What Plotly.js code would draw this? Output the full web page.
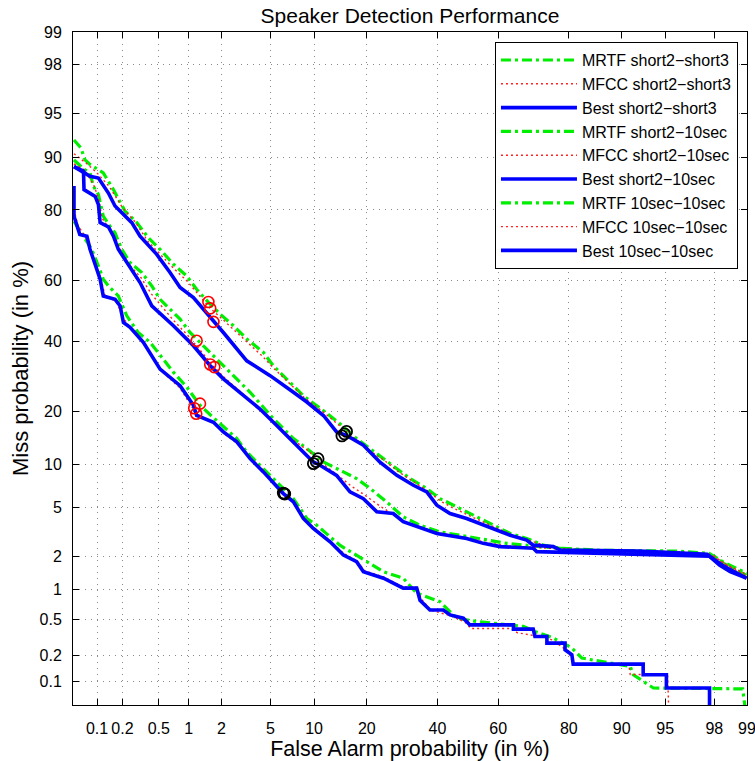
<!DOCTYPE html>
<html>
<head>
<meta charset="utf-8">
<script src="https://cdn.plot.ly/plotly-3.0.1.min.js"></script>
<style>html,body{margin:0;padding:0;background:#fff;}#chart{width:755px;height:761px;}</style>
</head>
<body>
<div id="chart"></div>
<script>
// ---- tick values (percent) ----
var tickPct = [0.1,0.2,0.5,1,2,5,10,20,40,60,80,90,95,98,99];
var tickText = ["0.1","0.2","0.5","1","2","5","10","20","40","60","80","90","95","98","99"];
var rangePct = [0.05, 99];

// ---- short2-short3 ----
var fa_mrtf_s2s3 = [0.0515,0.063,0.071,0.082,0.119,0.157,0.214,0.29,0.387,0.516,0.707,0.957,1.19,1.53,1.95,2.54,3.27,4.42,5.25,6.92,8.52,11.44,14.3,17.7,20.8,24.1,27.7,31.5,36.6,40.8,44.1,51.8,57.3,63.8,68.8,73.5,77.9,86.4,96.1,97.8,98.3,98.7,98.99];
var miss_mrtf_s2s3 = [92.3,91.3,89.6,88.9,87.5,84.4,79.7,76.9,72.9,69.6,65.1,61.4,57.1,52.8,48.9,45.0,40.7,36.4,32.3,27.5,23.9,20.2,17.3,14.3,12.5,10.85,9.37,8.06,6.89,5.84,5.38,4.40,3.79,3.15,2.87,2.52,2.37,2.28,2.24,2.14,1.82,1.61,1.42];
var fa_mfcc_s2s3 = [0.0515,0.075,0.1,0.14,0.2,0.28,0.38,0.5,0.7,0.95,1.2,1.59,2.0,2.6,3.3,4.4,5.3,7.0,8.6,11.5,14.5,17.7,21,24.5,28,32,37,41,45,52,58,64,69,74,78,87,96,97.8,98.3,98.7,99];
var miss_mfcc_s2s3 = [90.5,89.0,87.5,85.0,80.5,77.0,72.0,68.5,64.0,60.0,56.0,50.8,47.5,43.5,39.5,35.0,31.5,27.0,23.5,19.8,16.6,14.0,12.0,10.5,9.0,7.8,6.6,5.6,5.0,4.2,3.6,3.1,2.8,2.5,2.35,2.26,2.22,2.12,1.78,1.55,1.38];
var fa_best_s2s3 = [0.0515,0.082,0.104,0.137,0.164,0.255,0.315,0.476,0.653,0.824,1.11,1.48,2.08,3.27,4.97,7.30,8.98,11.44,13.7,15.6,19.2,23.2,27.7,32.5,36.6,39.8,44.1,49.6,54.1,58.4,63.8,68.8,70.7,76.2,77.9,92.4,97.7,98.2,98.56,98.99];
var miss_best_s2s3 = [88.55,86.9,86.6,83.7,80.9,76.9,73.3,68.1,62.5,57.7,54.4,49.4,42.8,33.8,29.4,24.8,22.3,19.1,15.6,14.9,13.1,10.3,8.47,7.26,6.53,5.23,4.53,4.15,3.79,3.46,3.05,2.78,2.52,2.45,2.29,2.24,2.10,1.69,1.47,1.28];

// ---- short2-10sec ----
var fa_mrtf_s210 = [0.0515,0.069,0.082,0.090,0.104,0.119,0.143,0.164,0.196,0.244,0.329,0.422,0.516,0.653,0.824,1.03,1.38,1.82,2.54,3.48,5.25,7.30,8.98,11.44,14.99,17.7,20.8,24.9,29.5,34.5,40.8,49.6,62.7,72.6,86.4,97.3,98.0,98.4,98.99];
var miss_mrtf_s210 = [89.6,88.1,87.5,85.1,83.4,78.5,76.0,74.2,69.6,65.6,62.5,58.2,53.8,50.5,47.2,42.8,38.5,34.3,29.4,24.8,18.4,14.3,12.5,10.35,8.93,8.06,6.89,5.54,4.27,3.67,3.25,2.97,2.61,2.45,2.22,2.10,2.02,1.71,1.36];
var fa_mfcc_s210 = [0.0515,0.07,0.09,0.105,0.115,0.14,0.16,0.19,0.23,0.32,0.42,0.52,0.7,1.0,1.3,1.73,2.1,2.9,4.2,5.5,7.3,9.0,11.0,13.7,16.5,19.5,23,27,30,35.5,40,50,56,62,72,86,97,98,98.4,99];
var miss_mfcc_s210 = [89.0,88.0,85.5,82.5,78.0,75.5,73.5,69.5,65.5,61.0,55.5,52.0,47.0,41.5,37.0,31.9,29.0,25.0,20.5,17.0,14.0,12.3,10.3,8.6,7.2,6.2,5.2,4.4,3.9,3.5,3.2,2.9,2.65,2.5,2.4,2.24,2.12,2.02,1.72,1.33];
var fa_best_s210 = [0.0515,0.068,0.069,0.095,0.104,0.109,0.137,0.157,0.179,0.224,0.315,0.422,0.707,1.11,1.59,2.08,2.89,4.16,5.56,7.30,9.89,10.9,13.7,16.3,19.2,22.4,26.7,29.5,35.5,39.8,49.6,55.1,60.6,70.7,71.7,90.2,97.8,98.3,98.99];
var miss_best_s210 = [88.55,87.8,84.4,83.0,81.2,76.9,75.8,73.3,69.6,65.6,59.3,51.6,45.0,38.5,32.3,28.5,24.8,20.6,16.9,13.7,10.35,9.86,8.47,6.53,5.84,4.67,4.53,3.91,3.46,3.15,2.87,2.61,2.45,2.37,2.22,2.10,2.02,1.68,1.28];

// ---- 10sec-10sec ----
var fa_mrtf_1010 = [0.0515,0.068,0.086,0.104,0.119,0.137,0.179,0.224,0.30,0.405,0.516,0.707,0.957,1.28,1.70,2.71,3.27,4.42,5.56,7.30,8.98,10.4,14.3,17.7,24.1,29.5,33.5,40.8,46.3,52.9,67.8,71.2,76.2,80.7,82.9,91.2,91.6,93.9,98.9,99.0];
var miss_mrtf_1010 = [77.2,73.3,69.6,64.5,60.4,58.2,54.9,48.3,42.8,39.6,35.4,30.4,26.2,21.5,18.6,14.3,11.9,9.37,7.65,5.84,4.15,3.67,2.52,2.07,1.47,1.28,0.92,0.76,0.514,0.476,0.421,0.372,0.315,0.244,0.187,0.150,0.119,0.082,0.080,0.03];
var fa_mfcc_1010 = [0.0515,0.058,0.068,0.08,0.095,0.11,0.125,0.17,0.2,0.25,0.34,0.52,0.82,1.0,1.18,1.7,2.1,2.7,3.5,4.4,6.2,7.3,8.6,10,12.5,15,17.7,19.5,24,29.5,33.5,35,38,44,49,51,64,66,72,76,80,81,91,91.2,95.2,95.3];
var miss_mfcc_1010 = [80.0,76.0,74.0,71.0,65.5,61.0,55.0,53.0,48.0,44.0,39.5,31.0,26.0,22.5,19.5,17.5,15.3,13.5,11.0,9.2,6.4,5.6,4.2,3.5,2.75,2.15,1.85,1.5,1.32,1.06,1.05,0.80,0.62,0.55,0.47,0.40,0.40,0.36,0.33,0.30,0.22,0.16,0.16,0.12,0.12,0.04];
var fa_best_1010 = [0.0515,0.0515,0.061,0.075,0.082,0.095,0.109,0.119,0.164,0.188,0.205,0.244,0.342,0.516,0.824,1.11,1.19,1.70,2.08,2.71,3.48,4.42,6.21,7.30,8.52,9.89,12.55,14.99,17.7,19.2,24.1,29.5,33.5,34.5,37.6,41.9,44.1,48.5,50.7,64.8,64.8,70.7,71.2,74.5,74.5,79.1,79.1,80.7,81.0,92.8,92.8,95.1,95.1,97.8,97.8];
var miss_best_1010 = [85.1,78.5,73.8,73.3,69.6,64.5,60.4,54.9,53.8,51.6,46.1,44.5,39.6,31.3,26.6,21.5,19.1,17.6,15.6,13.7,10.85,8.93,6.35,5.54,4.15,3.46,2.69,2.07,1.81,1.47,1.28,1.03,1.03,0.785,0.626,0.626,0.556,0.514,0.437,0.437,0.394,0.394,0.328,0.328,0.277,0.277,0.233,0.205,0.159,0.159,0.119,0.119,0.082,0.082,0.03];

// ---- operating points ----
var fa_minDCF = [1.53,1.59,1.70, 1.19,1.59,1.73, 1.28,1.13,1.18];
var miss_minDCF = [52.9,50.8,46.3, 40.1,32.7,31.9, 21.9,20.8,19.5];
var fa_EER = [15.6,14.7,15.2, 10.6,9.9,10.3, 6.2,6.35,6.3];
var miss_EER = [15.7,14.8,15.2, 10.85,10.1,10.4, 6.4,6.3,6.35];

var names = ["MRTF short2\u2212short3","MFCC short2\u2212short3","Best short2\u2212short3",
             "MRTF short2\u221210sec","MFCC short2\u221210sec","Best short2\u221210sec",
             "MRTF 10sec\u221210sec","MFCC 10sec\u221210sec","Best 10sec\u221210sec"];

// inverse normal CDF (Acklam)
function norminv(p){
  var a=[-3.969683028665376e+01,2.209460984245205e+02,-2.759285104469687e+02,1.383577518672690e+02,-3.066479806614716e+01,2.506628277459239e+00];
  var b=[-5.447609879822406e+01,1.615858368580409e+02,-1.556989798598866e+02,6.680131188771972e+01,-1.328068155288572e+01];
  var c=[-7.784894002430293e-03,-3.223964580411365e-01,-2.400758277161838e+00,-2.549732539343734e+00,4.374664141464968e+00,2.938163982698783e+00];
  var d=[7.784695709041462e-03,3.224671290700398e-01,2.445134137142996e+00,3.754408661907416e+00];
  var pl=0.02425, ph=1-pl, q, r;
  if(p<pl){q=Math.sqrt(-2*Math.log(p));return (((((c[0]*q+c[1])*q+c[2])*q+c[3])*q+c[4])*q+c[5])/((((d[0]*q+d[1])*q+d[2])*q+d[3])*q+1);}
  if(p<=ph){q=p-0.5;r=q*q;return (((((a[0]*r+a[1])*r+a[2])*r+a[3])*r+a[4])*r+a[5])*q/(((((b[0]*r+b[1])*r+b[2])*r+b[3])*r+b[4])*r+1);}
  q=Math.sqrt(-2*Math.log(1-p));return -(((((c[0]*q+c[1])*q+c[2])*q+c[3])*q+c[4])*q+c[5])/((((d[0]*q+d[1])*q+d[2])*q+d[3])*q+1);
}
function ppnd(arr){ return arr.map(function(v){ return norminv(v/100); }); }

var styles = {
  mrtf: {color:'#00ee00', width:3.2, dash:'10px,4px,3px,4px'},
  mfcc: {color:'#ff2020', width:1.4, dash:'2px,3px'},
  best: {color:'#0000ff', width:3.6, dash:'solid'}
};
var series = [
  [fa_mrtf_s2s3, miss_mrtf_s2s3, 'mrtf'], [fa_mfcc_s2s3, miss_mfcc_s2s3, 'mfcc'], [fa_best_s2s3, miss_best_s2s3, 'best'],
  [fa_mrtf_s210, miss_mrtf_s210, 'mrtf'], [fa_mfcc_s210, miss_mfcc_s210, 'mfcc'], [fa_best_s210, miss_best_s210, 'best'],
  [fa_mrtf_1010, miss_mrtf_1010, 'mrtf'], [fa_mfcc_1010, miss_mfcc_1010, 'mfcc'], [fa_best_1010, miss_best_1010, 'best']
];
var traces = [];
// draw green & red first, blue last; legend order kept with legendrank
['mrtf','mfcc','best'].forEach(function(kind){
  series.forEach(function(s, i){
    if (s[2] !== kind) return;
    traces.push({
      type:'scatter', mode:'lines', name: names[i], legendrank: i+1,
      x: ppnd(s[0]), y: ppnd(s[1]),
      line: styles[kind], hoverinfo:'skip'
    });
  });
});
traces.push({type:'scatter', mode:'markers', showlegend:false, x: ppnd(fa_minDCF), y: ppnd(miss_minDCF),
  marker:{symbol:'circle-open', size:11, color:'#ff0000', line:{width:1.6, color:'#ff0000'}}, hoverinfo:'skip'});
traces.push({type:'scatter', mode:'markers', showlegend:false, x: ppnd(fa_EER), y: ppnd(miss_EER),
  marker:{symbol:'circle-open', size:11, color:'#000000', line:{width:1.8, color:'#000000'}}, hoverinfo:'skip'});

var FONT = '"Liberation Sans", Arial, Helvetica, sans-serif';
function axis(title){
  var r = ppnd(rangePct);
  r[0] -= 1e-6; r[1] += 1e-6;
  return {
    range: r, tickmode:'array', tickvals: ppnd(tickPct), ticktext: tickText,
    showgrid:true, gridcolor:'#8a8a8a', gridwidth:1, griddash:'1px,5px',
    zeroline:false, showline:true, linecolor:'#000', linewidth:1, mirror:'ticks',
    ticks:'inside', ticklen:6, tickcolor:'#000', tickwidth:1,
    tickfont:{family:FONT, size:16, color:'#000'},
    ticklabeloverflow:'allow',
    title:{text:title, font:{family:FONT, size:21.5, color:'#000'}},
    automargin:false, fixedrange:true
  };
}
var xa = axis('False Alarm probability (in %)');
xa.ticklabelstandoff = 9;
xa.title.standoff = 2;
var ya = axis('Miss probability (in %)');
ya.ticklabelstandoff = 7;
ya.title.standoff = 4;
ya.title.font.size = 22;

var layout = {
  width:755, height:761,
  margin:{l:73, r:8, t:32, b:56, pad:0},
  paper_bgcolor:'#fff', plot_bgcolor:'#fff',
  font:{family:FONT, color:'#000'},
  title:{text:'Speaker Detection Performance', font:{family:FONT, size:21, color:'#000'},
         x:0.5, xref:'paper', xanchor:'center', y:1-16/761, yref:'container', yanchor:'middle'},
  xaxis: xa, yaxis: ya,
  showlegend:true,
  legend:{x:0.9866, xanchor:'right', y:0.985, yanchor:'top', bgcolor:'#fff', bordercolor:'#000', borderwidth:1,
          font:{family:FONT, size:16, color:'#000'}, tracegroupgap:0, itemwidth:76}
};
Plotly.newPlot('chart', traces, layout, {staticPlot:true, displayModeBar:false});
</script>
</body>
</html>
